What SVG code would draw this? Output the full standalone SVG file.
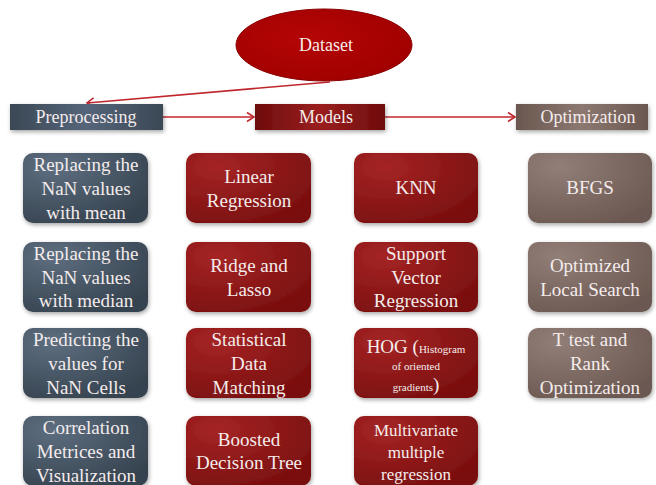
<svg xmlns="http://www.w3.org/2000/svg" width="656" height="485" viewBox="0 0 656 485" font-family="'Liberation Serif', 'Times New Roman', Times, serif">
<defs>
<radialGradient id="gSlate" cx="0.25" cy="0.2" r="0.9">
<stop offset="0" stop-color="#5d6e80"/><stop offset="1" stop-color="#36434f"/>
</radialGradient>
<radialGradient id="gRed" cx="0.25" cy="0.2" r="0.9">
<stop offset="0" stop-color="#a52424"/><stop offset="1" stop-color="#7a0f0f"/>
</radialGradient>
<radialGradient id="gBrown" cx="0.25" cy="0.2" r="0.9">
<stop offset="0" stop-color="#917e77"/><stop offset="1" stop-color="#6c5952"/>
</radialGradient>
<radialGradient id="gEll" cx="0.4" cy="0.4" r="0.7">
<stop offset="0" stop-color="#b40505"/><stop offset="1" stop-color="#a00000"/>
</radialGradient>
<linearGradient id="hSlate" x1="0" y1="0" x2="1" y2="0">
<stop offset="0" stop-color="#3b4855"/><stop offset="0.5" stop-color="#55657a"/><stop offset="1" stop-color="#3b4855"/>
</linearGradient>
<linearGradient id="hRed" x1="0" y1="0" x2="1" y2="0">
<stop offset="0" stop-color="#6e0d0d"/><stop offset="0.5" stop-color="#9a1e1e"/><stop offset="1" stop-color="#6e0d0d"/>
</linearGradient>
<linearGradient id="hBrown" x1="0" y1="0" x2="1" y2="0">
<stop offset="0" stop-color="#6a5750"/><stop offset="0.5" stop-color="#8c7870"/><stop offset="1" stop-color="#6a5750"/>
</linearGradient>
<filter id="sh" x="-10%" y="-10%" width="125%" height="130%">
<feDropShadow dx="1" dy="2" stdDeviation="2" flood-color="#000" flood-opacity="0.35"/>
</filter>
<marker id="arr" markerWidth="12" markerHeight="12" refX="10" refY="6" orient="auto" markerUnits="userSpaceOnUse">
<path d="M3,1.5 L10,6 L3,10.5" fill="none" stroke="#c0272d" stroke-width="1.5"/>
</marker>
</defs>
<style>
text{font-family:'Liberation Serif','Times New Roman',Times,serif;fill:#f4ecec;text-anchor:middle;}
.t{font-size:19px;}
.h{font-size:18px;}
.s{font-size:11px;}
.m{font-size:17px;}
.box{filter:url(#sh);}
.slate{fill:url(#gSlate);}
.red{fill:url(#gRed);}
.brown{fill:url(#gBrown);}
.conn{stroke:#c0272d;stroke-width:1.6;fill:none;marker-end:url(#arr);}
</style>
<rect width="656" height="485" fill="#ffffff"/>

<g id="connectors">
<path class="conn" d="M330,82 L87,103"/>
<path class="conn" d="M163,117 L254,117"/>
<path class="conn" d="M385,117 L515,117"/>
</g>

<g id="dataset">
<ellipse cx="324" cy="45" rx="88" ry="36" fill="url(#gEll)" stroke="#8a0000" stroke-width="1"/>
<text class="h" x="326" y="51">Dataset</text>
</g>

<g id="preprocessing">
<rect x="10" y="104" width="153" height="26" fill="url(#hSlate)" class="box"/>
<text class="h" x="86" y="123">Preprocessing</text>
</g>
<g id="models">
<rect x="255" y="104" width="130" height="26" fill="url(#hRed)" class="box"/>
<text class="h" x="326" y="123">Models</text>
</g>
<g id="optimization">
<rect x="516" y="104" width="132" height="26" fill="url(#hBrown)" class="box"/>
<text class="h" x="588" y="123">Optimization</text>
</g>

<g id="p1">
<rect class="box slate" x="23" y="153" width="125" height="70" rx="10"/>
<text class="t" x="86" y="171">Replacing the</text>
<text class="t" x="86" y="195">NaN values</text>
<text class="t" x="86" y="219">with mean</text>
</g>
<g id="p2">
<rect class="box slate" x="23" y="242" width="125" height="70" rx="10"/>
<text class="t" x="86" y="260">Replacing the</text>
<text class="t" x="86" y="284">NaN values</text>
<text class="t" x="86" y="307">with median</text>
</g>
<g id="p3">
<rect class="box slate" x="23" y="328" width="125" height="70" rx="10"/>
<text class="t" x="86" y="346">Predicting the</text>
<text class="t" x="86" y="370">values for</text>
<text class="t" x="86" y="394">NaN Cells</text>
</g>
<g id="p4">
<rect class="box slate" x="23" y="416" width="125" height="70" rx="10"/>
<text class="t" x="86" y="434">Correlation</text>
<text class="t" x="86" y="458">Metrices and</text>
<text class="t" x="86" y="482">Visualization</text>
</g>

<g id="m1">
<rect class="box red" x="186" y="153" width="125" height="70" rx="10"/>
<text class="t" x="249" y="183">Linear</text>
<text class="t" x="249" y="207">Regression</text>
</g>
<g id="m2">
<rect class="box red" x="186" y="242" width="125" height="70" rx="10"/>
<text class="t" x="249" y="272">Ridge and</text>
<text class="t" x="249" y="296">Lasso</text>
</g>
<g id="m3">
<rect class="box red" x="186" y="328" width="125" height="70" rx="10"/>
<text class="t" x="249" y="346">Statistical</text>
<text class="t" x="249" y="370">Data</text>
<text class="t" x="249" y="394">Matching</text>
</g>
<g id="m4">
<rect class="box red" x="186" y="416" width="125" height="70" rx="10"/>
<text class="t" x="249" y="446">Boosted</text>
<text class="t" x="249" y="469">Decision Tree</text>
</g>

<g id="m5">
<rect class="box red" x="354" y="153" width="124" height="70" rx="10"/>
<text class="t" x="416" y="194">KNN</text>
</g>
<g id="m6">
<rect class="box red" x="354" y="242" width="124" height="70" rx="10"/>
<text class="t" x="416" y="260">Support</text>
<text class="t" x="416" y="284">Vector</text>
<text class="t" x="416" y="307">Regression</text>
</g>
<g id="m7">
<rect class="box red" x="354" y="328" width="124" height="70" rx="10"/>
<text x="416" y="353"><tspan class="t">HOG (</tspan><tspan class="s">Histogram</tspan></text>
<text class="s" x="416" y="370">of oriented</text>
<text x="416" y="391"><tspan class="s">gradients</tspan><tspan class="t">)</tspan></text>
</g>
<g id="m8">
<rect class="box red" x="354" y="416" width="124" height="70" rx="10"/>
<text class="m" x="416" y="436">Multivariate</text>
<text class="m" x="416" y="458">multiple</text>
<text class="m" x="416" y="480">regression</text>
</g>

<g id="o1">
<rect class="box brown" x="528" y="153" width="124" height="70" rx="10"/>
<text class="t" x="590" y="194">BFGS</text>
</g>
<g id="o2">
<rect class="box brown" x="528" y="242" width="124" height="70" rx="10"/>
<text class="t" x="590" y="272">Optimized</text>
<text class="t" x="590" y="296">Local Search</text>
</g>
<g id="o3">
<rect class="box brown" x="528" y="328" width="124" height="70" rx="10"/>
<text class="t" x="590" y="346">T test and</text>
<text class="t" x="590" y="370">Rank</text>
<text class="t" x="590" y="394">Optimization</text>
</g>
</svg>
